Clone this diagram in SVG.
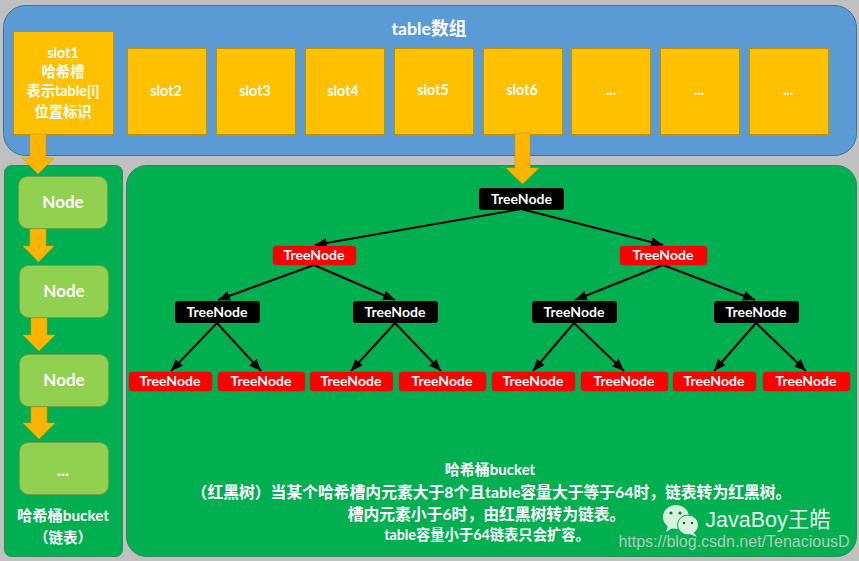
<svg xmlns="http://www.w3.org/2000/svg" width="859" height="561" viewBox="0 0 859 561">
<defs>
<marker id="ah" markerUnits="userSpaceOnUse" markerWidth="14" markerHeight="12" refX="12" refY="5" orient="auto"><path d="M0 0L12 5L0 10Z" fill="#000"/></marker>
</defs>
<style>
text{font-family:Lato,"Noto Sans CJK SC",sans-serif;font-weight:700;fill:#fff;text-anchor:middle}
.slot{fill:#ffc000;stroke:#bf9000;stroke-width:1}
.n{fill:#92d050;stroke:#6f9f4a;stroke-width:1}
.b{fill:#000}.r{fill:#f00;stroke:#d01818;stroke-width:.5}
.arr{fill:#ffb500;stroke:#c89a10;stroke-width:.6}
.t{font-size:14px}
.s{font-size:14.300px}
.l{stroke:#000;stroke-width:2;fill:none;marker-end:url(#ah)}
</style>
<rect width="859" height="561" fill="#c0c0c0"/>
<g id="table"><rect x="3.500" y="5.500" width="853" height="150" rx="22" fill="#5b9bd5" stroke="#41719c"/><text x="429" y="35" font-size="17.800">table数组</text></g>
<g id="bucket-list"><rect x="4.500" y="165.500" width="118" height="391" rx="7" fill="#00b050" stroke="#2e8b57"/><text x="63" y="521" font-size="15.300">哈希桶bucket</text><text x="63" y="543" font-size="14.500">（链表）</text></g>
<g id="bucket-tree"><rect x="126.500" y="165.500" width="730" height="391" rx="20" fill="#00b050" stroke="#2e8b57"/>
<text x="490" y="475" font-size="15">哈希桶bucket</text>
<text x="491.500" y="498" font-size="15.800">（红黑树）当某个哈希槽内元素大于8个且table容量大于等于64时，链表转为红黑树。</text>
<text x="486.500" y="520" font-size="15.800">槽内元素小于6时，由红黑树转为链表。</text>
<text x="487" y="540" font-size="14.300">table容量小于64链表只会扩容。</text></g>
<g id="slot1"><rect class="slot" x="13.500" y="31.500" width="100" height="103"/><text class="s" x="63" y="58">slot1</text><text class="s" x="63" y="77">哈希槽</text><text class="s" x="63" y="96">表示table[i]</text><text class="s" x="63" y="117">位置标识</text></g>
<g id="slot2"><rect class="slot" x="127.500" y="48.500" width="79" height="86"/><text class="s" x="166" y="96">slot2</text></g>
<g id="slot3"><rect class="slot" x="216.500" y="48.500" width="79" height="86"/><text class="s" x="255" y="96">slot3</text></g>
<g id="slot4"><rect class="slot" x="305.500" y="48.500" width="79" height="86"/><text class="s" x="343" y="96">slot4</text></g>
<g id="slot5"><rect class="slot" x="394.500" y="48.500" width="79" height="86"/><text class="s" x="433" y="95">slot5</text></g>
<g id="slot6"><rect class="slot" x="483.500" y="48.500" width="79" height="86"/><text class="s" x="522" y="95">slot6</text></g>
<g id="slot7"><rect class="slot" x="571.500" y="48.500" width="79" height="86"/><text class="s" x="611" y="95">...</text></g>
<g id="slot8"><rect class="slot" x="660.500" y="48.500" width="79" height="86"/><text class="s" x="699" y="95">...</text></g>
<g id="slot9"><rect class="slot" x="749.500" y="48.500" width="79" height="86"/><text class="s" x="788" y="95">...</text></g>
<g id="node1"><rect class="n" x="18.500" y="176.500" width="89" height="52" rx="9"/><text x="63" y="208" font-size="17">Node</text></g>
<g id="node2"><rect class="n" x="19.500" y="265.500" width="89" height="52" rx="9"/><text x="64" y="297" font-size="17">Node</text></g>
<g id="node3"><rect class="n" x="19.500" y="354.500" width="89" height="52" rx="9"/><text x="64" y="386" font-size="17">Node</text></g>
<g id="node4"><rect class="n" x="19.500" y="442.500" width="89" height="52" rx="9"/><text x="63" y="476" font-size="17">...</text></g>
<g id="connectors">
<path class="arr" d="M30 134H46V158H54L38 174L22 158H30Z"/>
<path class="arr" d="M30 229H46V246H54L38.500 262L23 246H30Z"/>
<path class="arr" d="M31 318H47V335H55L39 351L23 335H31Z"/>
<path class="arr" d="M31 407H47V423H55L39 439L23 423H31Z"/>
<path class="arr" d="M515 133H530V168H539L522.500 184L506 168H515Z"/>
<path class="l" d="M521 209L315 245"/><path class="l" d="M521 209L663 245"/>
<path class="l" d="M314 265L218 300"/><path class="l" d="M314 265L395 300"/>
<path class="l" d="M663 265L575 300"/><path class="l" d="M663 265L755 300"/>
<path class="l" d="M217 323L171 371"/><path class="l" d="M217 323L261 371"/>
<path class="l" d="M395 323L351 371"/><path class="l" d="M395 323L441 371"/>
<path class="l" d="M574 323L533 371"/><path class="l" d="M574 323L624 371"/>
<path class="l" d="M756 323L714 371"/><path class="l" d="M756 323L806 371"/>
</g>
<g id="t1"><rect class="b" x="479" y="188" width="85" height="22" rx="3"/><text class="t" x="521.500" y="204">TreeNode</text></g>
<g id="t2"><rect class="r" x="273" y="246" width="83" height="19" rx="3"/><text class="t" x="314" y="260">TreeNode</text></g>
<g id="t3"><rect class="r" x="620" y="246" width="87" height="19" rx="3"/><text class="t" x="663" y="260">TreeNode</text></g>
<g id="t4"><rect class="b" x="175" y="301" width="85" height="22" rx="3"/><text class="t" x="217" y="317">TreeNode</text></g>
<g id="t5"><rect class="b" x="353" y="301" width="85" height="22" rx="3"/><text class="t" x="395" y="317">TreeNode</text></g>
<g id="t6"><rect class="b" x="532" y="301" width="85" height="22" rx="3"/><text class="t" x="574" y="317">TreeNode</text></g>
<g id="t7"><rect class="b" x="714" y="301" width="85" height="22" rx="3"/><text class="t" x="756" y="317">TreeNode</text></g>
<g id="t8"><rect class="r" x="129" y="372" width="83" height="19" rx="3"/><text class="t" x="170" y="386">TreeNode</text></g>
<g id="t9"><rect class="r" x="218" y="372" width="87" height="19" rx="3"/><text class="t" x="261" y="386">TreeNode</text></g>
<g id="t10"><rect class="r" x="310" y="372" width="83" height="19" rx="3"/><text class="t" x="351" y="386">TreeNode</text></g>
<g id="t11"><rect class="r" x="399" y="372" width="87" height="19" rx="3"/><text class="t" x="442" y="386">TreeNode</text></g>
<g id="t12"><rect class="r" x="492" y="372" width="83" height="19" rx="3"/><text class="t" x="533" y="386">TreeNode</text></g>
<g id="t13"><rect class="r" x="581" y="372" width="87" height="19" rx="3"/><text class="t" x="624" y="386">TreeNode</text></g>
<g id="t14"><rect class="r" x="673" y="372" width="83" height="19" rx="3"/><text class="t" x="714" y="386">TreeNode</text></g>
<g id="t15"><rect class="r" x="763" y="372" width="87" height="19" rx="3"/><text class="t" x="806" y="386">TreeNode</text></g>
<g id="watermark">
<ellipse cx="676" cy="517" rx="13" ry="12" fill="#d8f0dc"/><path d="M668 525L666 532L674 527Z" fill="#d8f0dc"/>
<ellipse cx="688" cy="525" rx="10.500" ry="10" fill="#d8f0dc" stroke="#00b050"/><path d="M693 532L697 537L690 534Z" fill="#d8f0dc"/>
<circle cx="671" cy="513" r="1.600" fill="#00803a"/><circle cx="680" cy="513" r="1.600" fill="#00803a"/><circle cx="684" cy="523" r="1.300" fill="#00803a"/><circle cx="692" cy="523" r="1.300" fill="#00803a"/>
<text x="768" y="527" font-size="21.500" style="font-weight:400;fill:#e8f5ea;font-family:'Liberation Sans','Noto Sans CJK SC',sans-serif">JavaBoy王皓</text>
<text x="734" y="547" font-size="16" style="font-weight:400;fill:#b5c9bc;font-family:'Liberation Sans',sans-serif">https://blog.csdn.net/TenaciousD</text>
</g>
</svg>
